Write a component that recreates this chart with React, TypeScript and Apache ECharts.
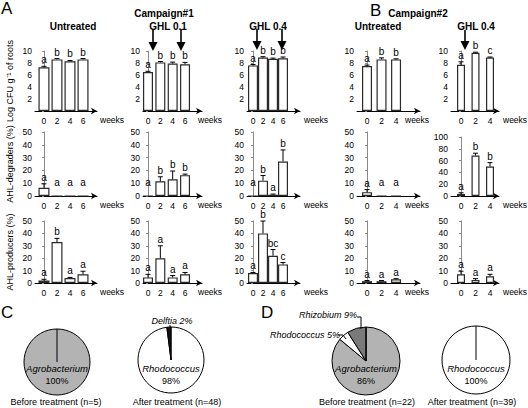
import React, { useEffect, useRef } from 'react';
import * as echarts from 'echarts';

const FONT = '"Liberation Sans", Arial, Helvetica, sans-serif';

// ---------- data ----------
const weeksC1 = [0, 2, 4, 6];
const weeksC2 = [0, 2, 4];

// Row 1: Log CFU g-1 of roots
const cfuA1 = [7.3, 8.6, 8.3, 8.6];
const cfuA1Err = [0.15, 0.15, 0.12, 0.15];
const cfuA1Sig = ['a', 'b', 'b', 'b'];
const cfuA2 = [6.5, 8.1, 7.9, 7.8];
const cfuA2Err = [0.12, 0.15, 0.25, 0.3];
const cfuA2Sig = ['a', 'b', 'b', 'b'];
const cfuA3 = [7.6, 8.9, 8.7, 8.8];
const cfuA3Err = [0.15, 0.15, 0.12, 0.2];
const cfuA3Sig = ['a', 'b', 'b', 'b'];
const cfuB1 = [7.5, 8.6, 8.6];
const cfuB1Err = [0.15, 0.25, 0.1];
const cfuB1Sig = ['a', 'b', 'b'];
const cfuB2 = [7.7, 9.7, 8.9];
const cfuB2Err = [0.5, 0.1, 0.1];
const cfuB2Sig = ['a', 'b', 'c'];

// Row 2: AHL-degraders (%)
const degA1 = [6.5, 0, 0, 0];
const degA1Err = [3, 0, 0, 0];
const degA1Sig = ['a', 'a', 'a', 'a'];
const degA2 = [0, 11.5, 13, 16.3];
const degA2Err = [0, 3.5, 6.5, 0.8];
const degA2Sig = ['a', 'b', 'b', 'b'];
const degA3 = [0, 12, 1, 27];
const degA3Err = [0, 4, 0.5, 9];
const degA3Sig = ['a', 'b', 'a', 'b'];
const degB1 = [3, 0, 0];
const degB1Err = [2, 0, 0];
const degB1Sig = ['a', 'a', 'a'];
const degB2 = [3.5, 68.5, 50];
const degB2Err = [2, 4, 6.5];
const degB2Sig = ['a', 'b', 'b'];

// Row 3: AHL-producers (%)
const prodA1 = [2, 33, 4, 7];
const prodA1Err = [1, 3, 0.5, 2.5];
const prodA1Sig = ['a', 'b', 'a', 'a'];
const prodA2 = [4.5, 20, 4.5, 7];
const prodA2Err = [2.5, 10, 1.5, 1.5];
const prodA2Sig = ['a', 'a', 'a', 'a'];
const prodA3 = [8, 40, 22, 15];
const prodA3Err = [0.5, 10, 5, 1.5];
const prodA3Sig = ['a', 'b', 'bc', 'c'];
const prodB1 = [1.5, 1.5, 3];
const prodB1Err = [0.5, 0.5, 0.5];
const prodB1Sig = ['a', 'a', 'a'];
const prodB2 = [7, 2.5, 5.5];
const prodB2Err = [2.5, 1, 1.5];
const prodB2Sig = ['a', 'a', 'a'];

// Pies
const pieC1 = [{ name: 'Agrobacterium', value: 100 }];
const pieC2 = [{ name: 'Rhodococcus', value: 98 }, { name: 'Delftia', value: 2 }];
const pieD1 = [
  { name: 'Agrobacterium', value: 86 },
  { name: 'Rhodococcus', value: 5 },
  { name: 'Rhizobium', value: 9 },
];
const pieD2 = [{ name: 'Rhodococcus', value: 100 }];

// ---------- layout ----------
const cols = [
  { left: 35, right: 97, min: -1.38, max: 8.15, barW: 11, weeks: weeksC1, wx: 100 },
  { left: 143, right: 202, min: -0.81, max: 8.75, barW: 10, weeks: weeksC1, wx: 198 },
  { left: 247, right: 300, min: -1.2, max: 9.4, barW: 10, weeks: weeksC1, wx: 304 },
  { left: 357, right: 420, min: -1.38, max: 7.3, barW: 10, weeks: weeksC2, wx: 405 },
  { left: 451, right: 499, min: -1.38, max: 5.24, barW: 8, weeks: weeksC2, wx: 503 },
];
const rows = [
  { top: 51, bottom: 111, max: 10, interval: 2, hideZero: true, name: 'Log CFU g\u207B\u00B9 of roots' },
  { top: 132, bottom: 196, max: 50, interval: 10, hideZero: false, name: 'AHL-degraders (%)' },
  { top: 221, bottom: 283, max: 50, interval: 10, hideZero: false, name: 'AHL-producers (%)' },
];
const panelData = [
  [
    [cfuA1, cfuA1Err, cfuA1Sig], [cfuA2, cfuA2Err, cfuA2Sig], [cfuA3, cfuA3Err, cfuA3Sig],
    [cfuB1, cfuB1Err, cfuB1Sig], [cfuB2, cfuB2Err, cfuB2Sig],
  ],
  [
    [degA1, degA1Err, degA1Sig], [degA2, degA2Err, degA2Sig], [degA3, degA3Err, degA3Sig],
    [degB1, degB1Err, degB1Sig], [degB2, degB2Err, degB2Sig],
  ],
  [
    [prodA1, prodA1Err, prodA1Sig], [prodA2, prodA2Err, prodA2Sig], [prodA3, prodA3Err, prodA3Sig],
    [prodB1, prodB1Err, prodB1Sig], [prodB2, prodB2Err, prodB2Sig],
  ],
];

const txt = (text: string, x: number, y: number, o: any = {}) => ({
  type: 'text',
  x,
  y,
  z: 100,
  silent: true,
  style: {
    text,
    fontSize: o.size ?? 9,
    fontFamily: FONT,
    fontWeight: o.weight ?? 'normal',
    fontStyle: o.style ?? 'normal',
    fill: '#000',
    align: o.align ?? 'center',
    verticalAlign: o.v ?? 'middle',
    textAlign: o.align ?? 'center',
    textVerticalAlign: o.v ?? 'middle',
  },
});

const line = (x1: number, y1: number, x2: number, y2: number, w = 1) => ({
  type: 'line',
  z: 100,
  silent: true,
  shape: { x1, y1, x2, y2 },
  style: { stroke: '#000', lineWidth: w },
});

const arrow = (x: number, y1: number, y2: number) => ({
  type: 'group',
  silent: true,
  z: 100,
  children: [
    line(x, y1, x, y2 - 7, 1.6),
    { type: 'polygon', z: 100, shape: { points: [[x - 4.5, y2 - 9], [x + 4.5, y2 - 9], [x, y2]] }, style: { fill: '#000' } },
  ],
});

function buildOption() {
  const grid: any[] = [];
  const xAxis: any[] = [];
  const yAxis: any[] = [];
  const series: any[] = [];
  const weeksTexts: any[] = [];
  let idx = 0;
  rows.forEach((r, ri) => {
    cols.forEach((c, ci) => {
      const [vals, errs, sig] = panelData[ri][ci] as [number[], number[], string[]];
      let top = r.top;
      let ymax = r.max;
      let interval = r.interval;
      if (ri === 1 && ci === 4) {
        top = 137;
        ymax = 100;
        interval = 20;
      }
      weeksTexts.push(txt('weeks', c.wx, r.bottom + 9, { size: 8.5, align: 'left' }));
      grid.push({ left: c.left, top, width: c.right - c.left, height: r.bottom - top, containLabel: false });
      xAxis.push({
        type: 'value',
        gridIndex: idx,
        min: c.min,
        max: c.max,
        splitLine: { show: false },
        axisTick: { show: false },
        axisLine: {
          show: true,
          onZero: false,
          symbol: ['none', 'arrow'],
          symbolSize: [5, 6],
          lineStyle: { color: '#000', width: 1 },
        },
        axisLabel: {
          customValues: c.weeks,
          fontSize: 8.5,
          fontFamily: FONT,
          color: '#000',
          margin: 5,
        },
      });
      yAxis.push({
        type: 'value',
        gridIndex: idx,
        min: 0,
        max: ymax,
        interval,
        splitLine: { show: false },
        axisLine: { show: true, lineStyle: { color: '#8a8a8a', width: 1 } },
        axisTick: { show: true, length: 2, lineStyle: { color: '#8a8a8a' } },
        axisLabel: {
          fontSize: 8.5,
          fontFamily: FONT,
          color: '#000',
          margin: 3,
          formatter: (v: number) => (r.hideZero && v === 0 ? '' : String(v)),
        },
        name: ci === 0 ? r.name : '',
        nameLocation: 'middle',
        nameRotate: 90,
        nameGap: 21,
        nameMoveOverlap: false,
        nameTextStyle: { fontSize: 9, fontFamily: FONT, color: '#000' },
      });
      series.push({
        type: 'bar',
        xAxisIndex: idx,
        yAxisIndex: idx,
        barWidth: c.barW,
        silent: true,
        itemStyle: { color: '#fff', borderColor: '#2a2a2a', borderWidth: 1.2 },
        data: c.weeks.map((w, j) => [w, vals[j]]),
      });
      series.push({
        type: 'custom',
        xAxisIndex: idx,
        yAxisIndex: idx,
        silent: true,
        z: 5,
        data: c.weeks.map((w, j) => [w, vals[j], errs[j]]),
        renderItem: (params: any, api: any) => {
          const x = api.value(0);
          const m = api.value(1);
          const e = api.value(2);
          const pb = api.coord([x, m]);
          const pt = api.coord([x, m + e]);
          const p0 = api.coord([x, 0]);
          const ch: any[] = [];
          if (e > 0) {
            ch.push({ type: 'line', shape: { x1: pt[0], y1: pb[1], x2: pt[0], y2: pt[1] }, style: { stroke: '#000', lineWidth: 1 } });
            ch.push({ type: 'line', shape: { x1: pt[0] - 2.5, y1: pt[1], x2: pt[0] + 2.5, y2: pt[1] }, style: { stroke: '#000', lineWidth: 1 } });
          }
          const ly = m + e > 0 ? pt[1] - 1.5 : p0[1] - 9;
          ch.push({
            type: 'text',
            x: pt[0],
            y: ly,
            style: {
              text: sig[params.dataIndex],
              fontSize: 10,
              fontFamily: FONT,
              fill: '#000',
              align: 'center',
              verticalAlign: 'bottom',
              textAlign: 'center',
              textVerticalAlign: 'bottom',
            },
          });
          return { type: 'group', children: ch };
        },
      });
      idx++;
    });
  });

  const pieBase = {
    type: 'pie',
    startAngle: 90,
    silent: true,
    z: 1,
    label: { show: false },
    labelLine: { show: false },
    emphasis: { disabled: true },
    itemStyle: { borderColor: '#000', borderWidth: 1 },
  };
  const pies = [
    { center: [57, 362], r: 33, data: pieC1, colors: ['#b3b3b3'] },
    { center: [171, 360], r: 33, data: pieC2, colors: ['#ffffff', '#111111'] },
    { center: [366, 361], r: 34, data: pieD1, colors: ['#b3b3b3', '#ffffff', '#7a7a7a'] },
    { center: [476, 360], r: 34, data: pieD2, colors: ['#ffffff'] },
  ];
  pies.forEach((p) => {
    series.push({
      ...pieBase,
      center: p.center,
      radius: p.r,
      data: p.data.map((d, i) => ({ ...d, itemStyle: { color: p.colors[i] } })),
    });
  });

  const graphic: any[] = [
    ...weeksTexts,
    txt('A', 1, 8, { size: 17, align: 'left' }),
    txt('Campaign#1', 164, 13, { size: 10, weight: 'bold' }),
    txt('B', 370, 10, { size: 17, align: 'left' }),
    txt('Campaign#2', 418, 13, { size: 10, weight: 'bold' }),
    txt('Untreated', 73, 26, { size: 10, weight: 'bold' }),
    txt('GHL 0.1', 168, 26, { size: 10, weight: 'bold' }),
    txt('GHL 0.4', 268, 26, { size: 10, weight: 'bold' }),
    txt('Untreated', 378, 26, { size: 10, weight: 'bold' }),
    txt('GHL 0.4', 476, 26, { size: 10, weight: 'bold' }),
    arrow(153, 29, 51),
    arrow(181, 29, 51),
    arrow(257, 29, 50),
    arrow(282, 29, 50),
    arrow(465, 30, 50),
    txt('C', 1, 312, { size: 17, align: 'left' }),
    txt('D', 261, 312, { size: 17, align: 'left' }),
    // pie C1
    line(57, 362, 57, 329),
    txt('Agrobacterium', 57, 368, { size: 9.5, style: 'italic' }),
    txt('100%', 57, 381, { size: 9 }),
    txt('Before treatment (n=5)', 56, 402, { size: 9 }),
    // pie C2
    txt('Delftia 2%', 172, 321, { size: 9, style: 'italic' }),
    line(170, 325, 170, 328),
    txt('Rhodococcus', 171, 368, { size: 9.5, style: 'italic' }),
    txt('98%', 171, 381, { size: 9 }),
    txt('After treatment (n=48)', 177, 402, { size: 9 }),
    // pie D1
    line(366, 361, 366, 327),
    txt('Rhizobium 9%', 328, 315, { size: 9, style: 'italic' }),
    line(357, 317, 361, 317),
    line(361, 317, 361, 329),
    txt('Rhodococcus 5%', 305, 335, { size: 9, style: 'italic' }),
    line(338, 335, 343, 335),
    line(343, 335, 346, 339),
    txt('Agrobacterium', 366, 368, { size: 9.5, style: 'italic' }),
    txt('86%', 366, 381, { size: 9 }),
    txt('Before treatment (n=22)', 367, 402, { size: 9 }),
    // pie D2
    line(476, 360, 476, 326),
    txt('Rhodococcus', 476, 368, { size: 9.5, style: 'italic' }),
    txt('100%', 476, 381, { size: 9 }),
    txt('After treatment (n=39)', 472, 402, { size: 9 }),
  ];

  return { animation: false, backgroundColor: '#fff', grid, xAxis, yAxis, series, graphic };
}

export default function App() {
  const ref = useRef<HTMLDivElement>(null);
  useEffect(() => {
    if (!ref.current) return;
    const chart = echarts.init(ref.current, undefined, { renderer: 'svg' });
    chart.setOption(buildOption() as any);
    return () => chart.dispose();
  }, []);
  return <div ref={ref} style={{ position: 'fixed', left: 0, top: 0, width: 528, height: 408, background: '#fff' }} />;
}
